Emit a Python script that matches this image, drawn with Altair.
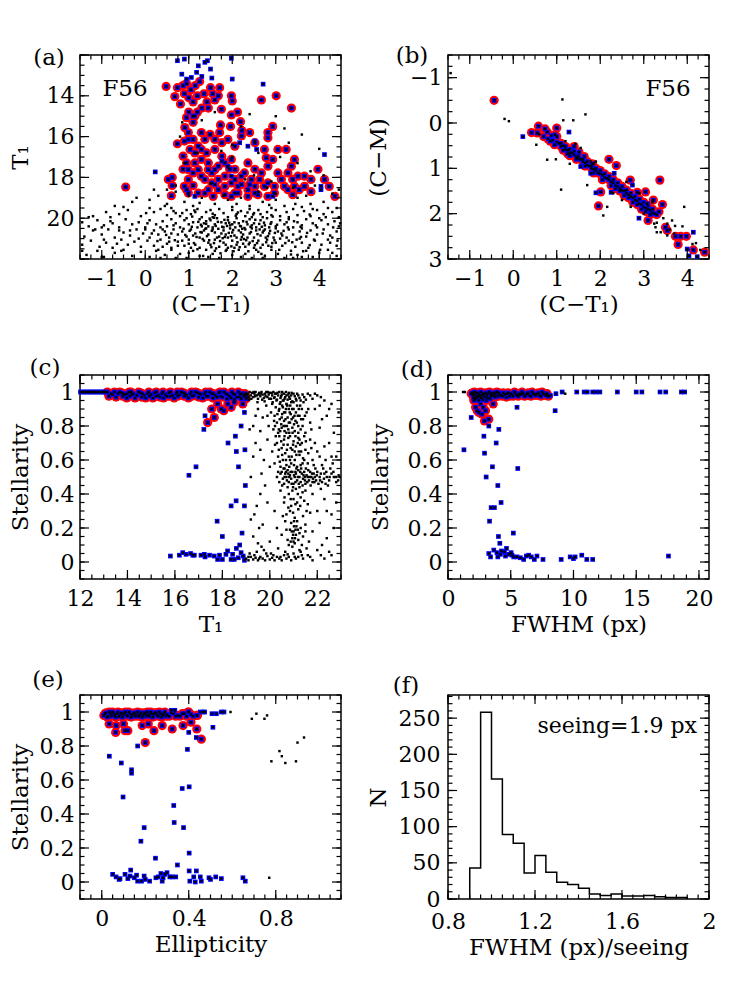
import altair as alt
import pandas as pd

FONT = "DejaVu Serif"
W, H = 261, 204

# ---------------- panel (a): T1 vs (C-T1) ----------------
A_RED = [(0.48,13.54),(0.68,14.04),(0.74,13.6),(0.81,14.4),(0.87,13.5),(0.9,13.9),(0.95,13.4),(1.0,14.1),(1.05,13.7),(1.1,14.3),(1.15,13.5),(1.2,14.0),(1.25,13.3),(1.3,14.6),(1.35,13.9),(1.42,14.3),(1.5,13.6),(1.45,14.6),(1.6,14.2),(1.55,13.9),(1.68,14.0),(1.71,13.6),(1.98,14.0),(2.0,14.25),(2.67,14.2),(3.01,14.0),(3.36,14.6),(1.75,14.66),(1.98,14.94),(2.12,14.8),(2.19,15.27),(1.73,15.43),(2.22,15.7),(1.96,15.5),(1.0,14.8),(1.1,15.0),(1.2,14.8),(0.95,15.07),(0.91,15.56),(0.99,15.8),(1.14,14.99),(1.1,15.3),(1.29,15.8),
 (0.74,16.35),(0.9,16.22),(1.37,16.14),(1.22,16.47),(1.03,16.63),(0.95,17.29),(0.87,17.6),(0.99,18.1),(1.1,18.4),(0.95,18.6),(1.22,18.77),(1.45,18.6),(1.6,18.35),(1.29,17.94),(1.53,17.78),(1.68,17.45),(1.76,16.96),(1.6,16.63),(1.49,15.89),(1.71,15.8),(1.9,16.14),(2.06,16.47),(1.98,17.12),(1.83,17.29),(2.06,17.6),(2.21,17.94),(1.98,18.27),(2.13,18.44),(1.83,18.44),(1.68,18.6),(2.06,18.77),(2.36,18.6),(2.52,18.44),(2.63,18.1),(2.82,18.27),(2.97,18.44),(3.13,18.1),(3.28,17.78),(3.36,17.45),(3.24,16.63),(3.05,16.63),(3.43,17.12),(3.51,17.94),(3.66,17.94),(3.81,18.1),(3.97,17.6),(4.12,18.1),(4.23,18.44),(4.36,18.93),(3.81,18.7),(3.66,18.44),(3.43,18.44),(3.39,18.85),(3.28,18.6),(2.82,18.93),(2.59,18.85),(2.36,18.93),(2.21,18.35),(2.44,18.1),(2.67,17.78),(2.82,17.45),(2.78,17.04),(2.93,17.12),(2.74,16.63),(2.52,16.3),(2.4,15.8),(2.21,15.97),(2.82,15.8),(2.82,16.06),(2.93,15.5),(2.36,17.29),(2.28,17.78),(2.52,17.6),(0.53,18.1),(0.62,18.0),(0.62,18.4),(0.6,18.9),(0.9,18.44),(0.99,18.77),(1.1,17.78),(1.14,17.29),(1.29,17.12),(1.45,17.29),(1.41,16.8),(1.29,16.63),(1.14,16.8),(1.37,18.1),(1.53,18.27),(1.68,18.1),(1.83,17.94),(1.94,17.6),(1.6,17.62),(1.45,17.62),(0.99,17.62),(1.22,17.62),(1.37,18.77),(1.56,18.93),(1.83,18.85),(1.98,18.93),(2.13,18.77),(0.87,16.96),(0.99,16.14),(1.1,16.14),(1.6,16.14),(1.76,16.3),(2.06,18.1),(2.4,18.35),(3.05,17.78),(3.2,18.44),(3.39,18.1),(3.54,18.6),(2.52,18.77),(2.74,18.44),(2.97,18.77),(-0.45,18.47)]
A_BLUE_ONLY = [(0.74,12.28),(0.9,12.2),(0.84,12.94),(0.95,13.18),(1.22,12.53),(1.18,12.85),(1.37,12.36),(1.43,12.28),(1.5,12.69),(1.53,13.13),(1.98,12.16),(2.0,13.18),(2.71,13.43),(0.23,17.73),(4.12,16.88),(2.52,16.22),(2.56,16.63),(2.36,16.47),(1.76,17.2),(1.9,17.45),(1.14,18.93),(2.93,18.93),(4.04,18.44),(4.04,18.6),(1.98,17.94),(2.17,16.3),(1.06,13.1),(1.3,13.05)]
A_BLACK = [(-0.7,19.4),(-0.3,19.2),(0.1,19.1),(0.3,18.9),(0.5,19.3),(0.7,18.7),(0.9,19.2),(1.3,19.0),(1.6,19.3),(1.9,19.1),(2.2,19.0),(2.4,19.4),(2.7,19.2),(3.0,19.1),(3.2,19.4),(3.5,19.0),(3.8,19.3),(4.1,19.2),(4.4,19.5),(1.1,19.4),(2.0,19.45),(2.9,19.5),(3.6,19.45),(0.6,19.5),
 (-1.2,19.9),(-0.9,19.7),(-0.6,19.8),(-0.4,19.6),(-0.1,19.9),(0.2,19.7),(0.35,19.55),(0.5,19.85),(0.65,19.65),(0.8,19.9),(0.95,19.6),(1.05,19.8),(1.2,19.55),(1.3,19.95),(1.4,19.7),(1.5,19.6),(1.6,19.85),(1.7,19.55),(1.8,19.75),(1.9,19.95),(2.0,19.6),(2.1,19.8),(2.2,19.65),(2.3,19.9),(2.4,19.55),(2.5,19.75),(2.6,19.6),(2.7,19.95),(2.8,19.7),(2.9,19.85),(3.0,19.6),(3.1,19.9),(3.25,19.7),(3.4,19.55),(3.5,19.85),(3.65,19.65),(3.8,19.9),(3.95,19.6),(4.1,19.8),(4.3,19.7),(4.45,19.95),(0.1,19.5),(1.55,19.95),(2.45,19.95),(3.3,19.95),(-0.8,19.95),(0.7,19.75),(1.15,19.7),(2.65,19.8),(3.85,19.55),
 (-1.45,20.2),(-1.3,20.4),(-1.1,20.1),(-0.95,20.35),(-0.8,20.15),(-0.6,20.45),(-0.45,20.05),(-0.3,20.3),(-0.15,20.2),(0.0,20.45),(0.1,20.1),(0.25,20.3),(0.4,20.15),(0.5,20.4),(0.6,20.05),(0.7,20.25),(0.8,20.45),(0.9,20.1),(1.0,20.3),(1.1,20.2),(1.2,20.45),(1.25,20.05),(1.35,20.25),(1.45,20.4),(1.5,20.1),(1.6,20.3),(1.65,20.0),(1.75,20.2),(1.8,20.45),(1.9,20.1),(1.95,20.35),(2.05,20.2),(2.1,20.0),(2.2,20.4),(2.25,20.15),(2.35,20.3),(2.4,20.05),(2.5,20.25),(2.55,20.45),(2.65,20.1),(2.75,20.35),(2.8,20.0),(2.9,20.2),(3.0,20.4),(3.1,20.1),(3.2,20.3),(3.3,20.05),(3.4,20.45),(3.5,20.2),(3.6,20.35),(3.7,20.05),(3.85,20.25),(3.95,20.45),(4.05,20.1),(4.2,20.3),(4.35,20.15),(4.45,20.4),(1.55,20.45),(2.0,20.3),(2.45,20.35),(1.3,20.4),(0.95,20.0),(2.85,20.45),(3.25,20.2),(1.85,20.25),(2.15,20.25),(0.35,20.45),(4.0,20.0),(-1.0,20.45),(1.4,20.15),
 (-1.4,20.9),(-1.2,20.6),(-1.0,20.8),(-0.85,20.55),(-0.7,20.95),(-0.5,20.7),(-0.35,20.85),(-0.2,20.55),(-0.05,20.75),(0.1,20.95),(0.2,20.6),(0.3,20.8),(0.45,20.65),(0.55,20.95),(0.65,20.55),(0.75,20.8),(0.85,20.65),(0.95,20.9),(1.05,20.55),(1.15,20.75),(1.25,20.95),(1.35,20.6),(1.45,20.8),(1.55,20.55),(1.6,20.7),(1.7,20.9),(1.8,20.6),(1.85,20.8),(1.95,20.5),(2.0,20.7),(2.1,20.95),(2.15,20.6),(2.25,20.8),(2.3,20.55),(2.4,20.75),(2.5,20.95),(2.55,20.6),(2.65,20.85),(2.75,20.55),(2.85,20.75),(2.95,20.95),(3.05,20.65),(3.15,20.85),(3.3,20.55),(3.4,20.8),(3.55,20.65),(3.7,20.9),(3.8,20.6),(3.95,20.8),(4.1,20.55),(4.25,20.85),(4.4,20.65),(1.4,20.5),(1.75,20.75),(2.05,20.85),(2.35,20.95),(1.1,20.85),(0.6,20.75),(2.7,20.7),(3.25,20.95),(-0.6,20.6),(1.9,20.95),(2.45,20.5),(3.6,20.5),(0.0,20.55),(1.3,20.7),(2.2,20.7),(1.65,20.95),(3.0,20.5),(4.3,20.95),
 (-1.45,21.3),(-1.25,21.1),(-1.05,21.4),(-0.9,21.2),(-0.75,21.45),(-0.55,21.05),(-0.4,21.3),(-0.25,21.15),(-0.1,21.4),(0.05,21.1),(0.2,21.35),(0.35,21.05),(0.5,21.25),(0.6,21.45),(0.75,21.15),(0.9,21.35),(1.0,21.05),(1.15,21.3),(1.25,21.45),(1.35,21.1),(1.5,21.3),(1.6,21.05),(1.7,21.4),(1.8,21.2),(1.9,21.45),(2.0,21.1),(2.1,21.3),(2.2,21.05),(2.3,21.4),(2.4,21.2),(2.5,21.45),(2.6,21.1),(2.7,21.3),(2.8,21.05),(2.9,21.4),(3.0,21.2),(3.15,21.35),(3.3,21.1),(3.45,21.4),(3.6,21.2),(3.75,21.45),(3.9,21.1),(4.05,21.3),(4.2,21.05),(4.4,21.35),(1.45,21.2),(1.85,21.3),(2.25,21.25),(0.85,21.1),(2.65,21.45),(3.55,21.0),(-0.65,21.25),(1.05,21.45),(2.05,21.45),(0.4,21.4),(3.1,21.0),
 (-1.35,21.8),(-1.1,21.6),(-0.95,21.9),(-0.7,21.7),(-0.5,21.55),(-0.3,21.85),(-0.1,21.65),(0.1,21.9),(0.25,21.6),(0.45,21.8),(0.6,21.55),(0.8,21.75),(0.95,21.95),(1.1,21.6),(1.25,21.85),(1.4,21.55),(1.55,21.75),(1.7,21.95),(1.85,21.6),(2.0,21.8),(2.15,21.55),(2.3,21.75),(2.45,21.95),(2.6,21.65),(2.75,21.85),(2.9,21.55),(3.05,21.75),(3.2,21.95),(3.35,21.6),(3.5,21.8),(3.7,21.6),(3.85,21.9),(4.0,21.7),(4.2,21.55),(4.4,21.85),(1.6,21.6),(2.2,21.9),(0.7,21.95),(-1.45,21.6),(2.55,21.55),(1.0,21.7),(3.4,21.95),
 (1.02,20.62),(1.22,20.18),(1.42,20.88),(1.62,20.38),(1.82,20.08),(2.02,20.58),(2.22,20.92),(2.42,20.42),(2.62,20.28),(2.82,20.88),(1.12,21.22),(1.32,21.02),(1.52,21.42),(1.72,21.12),(1.92,20.72),(2.12,21.18),(2.32,21.08),(2.52,21.32),(2.72,20.62),(2.92,21.22),(1.08,19.92),(1.28,20.32),(1.48,20.02),(1.68,20.52),(1.88,20.38),(2.08,19.88),(2.28,20.48),(2.48,19.82),(2.68,20.42),(2.88,20.28),(1.18,20.92),(1.38,20.52),(1.58,21.22),(1.78,20.98),(1.98,21.38),(2.18,20.38),(2.38,21.28),(2.58,20.78),(2.78,21.18),(2.98,20.72),(0.88,20.52),(0.68,21.08),(3.18,20.62),(3.38,21.18),(3.58,20.92),(0.48,20.82),(3.78,21.32),(0.28,21.12),(1.55,19.78),(2.35,19.72),
 (-1.3,19.95),(-1.15,20.55),(-0.95,21.05),(-0.75,20.25),(-0.55,21.6),(-0.35,20.6),(-0.15,21.0),(0.05,20.25),(0.15,20.75),(0.3,21.55),(0.4,20.55),(0.55,21.15),(0.65,20.35),(0.75,21.35),(0.85,19.75),(0.92,20.82),(1.0,21.25),(1.07,20.42),(1.13,19.62),(1.2,21.52),(1.27,20.68),(1.33,21.85),(1.4,20.28),(1.47,21.08),(1.53,20.62),(1.58,19.98),(1.63,21.48),(1.67,20.18),(1.73,21.72),(1.77,20.42),(1.83,20.92),(1.87,21.55),(1.93,20.22),(1.97,20.88),(2.03,21.62),(2.07,20.45),(2.13,19.72),(2.17,21.42),(2.23,20.52),(2.27,21.02),(2.33,20.18),(2.37,21.62),(2.43,20.68),(2.47,21.12),(2.53,20.08),(2.57,21.22),(2.63,20.55),(2.67,21.75),(2.73,20.22),(2.77,20.95),(2.83,21.35),(2.87,20.62),(2.93,19.92),(2.97,21.08),(3.03,20.32),(3.08,21.55),(3.13,20.75),(3.22,21.22),(3.28,20.45),(3.35,21.78),(3.42,20.15),(3.48,21.05),(3.57,20.42),(3.63,21.62),(3.72,20.72),(3.78,19.82),(3.88,21.05),(3.92,20.35),(4.02,21.55),(4.08,20.75),(4.15,19.95),(4.25,21.2),(4.32,20.45),(4.42,21.1),(4.48,20.25),(0.02,19.75),(-0.5,19.45),(0.45,19.4),(1.25,19.25),(2.1,19.3),(2.85,19.35),(3.45,19.3),(4.2,19.5),(-1.0,21.9),(0.35,21.95),(1.45,21.9),(2.7,21.95),(3.6,21.9),(4.3,21.7),
 (0.85,15.3),(1.3,15.2),(1.6,14.8),(2.4,14.9),(3.2,15.6),(3.6,15.9),(2.0,16.4),(1.2,16.8),(1.9,17.5),(2.6,16.8),(3.1,17.0),(3.5,17.3),(3.8,17.7),(4.1,17.9),(0.9,17.3),(0.7,18.4),(1.5,18.3),(2.3,18.1),(2.9,18.2),(3.4,18.5),(3.9,18.4),(4.3,18.8),(0.5,18.6),(1.8,18.9),(2.6,18.7),(3.0,18.8),(1.1,18.4),(2.0,17.0),(2.5,17.9),(3.3,16.3),(0.8,16.0),(1.5,15.9),(4.0,16.6),(3.7,18.9),(1.0,18.9),(0.2,18.6),(-0.2,19.0),(2.2,15.5),(3.0,15.0),(1.75,16.7),(2.8,18.5),(4.45,18.6)]

# ---------------- panel (b): (C-M) vs (C-T1) ----------------
B_RED = [(-0.44,-0.5),(0.42,0.21),(0.55,0.22),(0.58,0.07),(0.73,0.13),(1.0,0.11),(0.96,0.26),(1.4,0.52),(1.51,0.64),(1.63,0.74),(1.82,0.9),(2.2,0.8),(2.37,0.94),(2.01,1.52),(1.96,1.83),(2.69,1.26),(2.85,1.53),(3.04,1.52),(3.1,2.15),(3.37,1.26),(3.22,1.7),(3.43,1.8),(3.35,1.96),(3.5,2.3),(3.54,2.37),(3.73,2.5),(3.85,2.5),(3.98,2.5),(3.79,2.68),(4.14,2.8),(4.4,2.85),
 (1.05,0.45),(1.1,0.52),(1.15,0.5),(1.2,0.58),(1.25,0.6),(1.3,0.65),(1.35,0.66),(1.4,0.7),(1.45,0.75),(1.5,0.78),(1.55,0.8),(1.6,0.85),(1.65,0.88),(1.7,0.93),(1.75,0.95),(1.8,1.0),(1.85,1.02),(1.9,1.05),(1.95,1.1),(2.0,1.12),(2.05,1.15),(2.1,1.2),(2.15,1.22),(2.2,1.25),(2.25,1.3),(2.3,1.32),(2.35,1.38),(2.4,1.4),(2.45,1.45),(2.5,1.48),(2.55,1.5),(2.6,1.55),(2.65,1.58),(2.7,1.62),(2.75,1.65),(2.8,1.7),(2.85,1.72),(2.9,1.78),(2.95,1.8),(3.0,1.85),(3.05,1.88),(3.1,1.9),(3.15,1.93),(3.2,1.98),(3.25,2.0),(3.3,2.02),
 (0.7,0.3),(0.8,0.35),(0.85,0.4),(0.9,0.38),(0.95,0.48),(1.0,0.42),(1.1,0.45),(1.2,0.52),(1.3,0.58),(1.4,0.62),(1.5,0.72),(1.6,0.8),(1.7,0.85),(1.8,0.95),(1.9,1.0),(2.0,1.05),(2.1,1.12),(2.2,1.18),(2.3,1.25),(2.4,1.32),(2.5,1.4),(2.6,1.48),(2.7,1.55),(2.8,1.62),(2.9,1.68),(3.0,1.75),(3.1,1.82),(3.2,1.9),
 (1.15,0.6),(1.25,0.68),(1.45,0.8),(1.65,0.95),(1.85,1.1),(2.05,1.25),(2.25,1.38),(2.45,1.5),(2.65,1.65),(2.85,1.8),(3.05,1.95),(1.3,0.72),(2.35,1.45),(2.55,1.6),(2.75,1.75),(2.95,1.9),(3.15,2.02),(0.78,0.2),(0.88,0.28),(1.0,0.3)]
B_BLUE_ONLY = [(0.22,0.3),(1.28,0.2),(2.25,1.53),(1.9,1.54),(2.89,2.1),(4.0,2.78),(4.04,2.93),(4.23,2.95),(4.14,2.41),(1.55,0.96),(1.78,1.11),(2.32,1.11),(2.74,1.37),(3.08,1.78)]
B_BLACK = [(-0.2,-0.09),(-0.1,-0.04),(1.13,-0.52),(1.15,-0.06),(1.38,-0.06),(1.66,-0.19),(0.53,0.48),(0.78,0.81),(0.98,0.8),(1.1,1.47),(1.43,0.46),(1.78,0.85),(1.86,0.89),(1.7,1.37),(2.07,2.04),(2.16,1.85),(3.24,2.22),(3.27,2.3),(3.3,2.41),(3.39,2.41),(3.54,2.48),(3.72,2.27),(3.89,2.28),(3.93,1.85),(3.7,2.44),(4.12,2.67),(3.54,2.22),(-1.44,-1.1),(2.6,1.3),(2.9,1.55),(3.2,1.75),(1.9,0.85),(2.3,1.55),(3.45,2.1),(3.65,2.15),(2.5,1.7),(1.55,0.55),(1.2,0.4),(0.6,0.25),(3.0,2.0),(3.6,2.35),(4.2,2.65),(4.3,2.8),(1.3,0.9),(2.7,1.85),(3.3,2.2)]

# ---------------- panel (c): stellarity vs T1 ----------------
C_RED = [(13.15,1.0),(13.3,0.99),(13.45,1.0),(13.6,0.99),(13.75,0.995),(13.9,0.985),(14.0,0.99),(14.1,0.975),(14.25,0.99),(14.4,0.98),(14.55,0.995),(14.7,0.98),(14.85,0.99),(15.0,0.985),(15.15,0.995),(15.3,0.98),(15.45,0.99),(15.6,0.985),(15.75,0.995),(15.9,0.98),(16.05,0.99),(16.2,0.985),(16.35,0.995),(16.5,0.98),(16.65,0.99),(16.8,0.98),(16.95,0.995),(17.1,0.985),(17.25,0.99),(17.4,0.975),(17.55,0.99),(17.7,0.98),(17.85,0.995),(18.0,0.97),(18.15,0.99),(18.3,0.975),(18.45,0.99),(18.6,0.97),(18.75,0.985),(18.9,0.975),(19.0,0.96),(13.8,0.975),(14.15,1.0),(14.6,0.97),(15.2,0.975),(15.8,0.975),(16.4,0.975),(17.0,0.97),(17.6,0.965),(18.2,0.96),(18.5,0.955),(18.8,0.96),(16.1,1.0),(16.7,1.0),(17.3,1.0),(17.9,1.0),(18.4,1.0),(18.95,0.99),(15.5,1.0),(14.9,1.0),
 (13.22,0.975),(13.37,0.985),(13.52,0.97),(13.67,1.0),(13.82,0.99),(13.97,0.965),(14.07,1.0),(14.18,0.985),(14.32,0.965),(14.47,1.0),(14.62,0.99),(14.77,0.965),(14.92,0.975),(15.07,0.965),(15.22,1.0),(15.37,0.97),(15.52,0.965),(15.67,0.975),(15.82,1.0),(15.97,0.965),(16.12,0.975),(16.27,1.0),(16.42,0.99),(16.57,0.965),(16.72,0.975),(16.87,1.0),(17.02,0.99),(17.17,0.965),(17.32,0.975),(17.47,1.0),(17.62,0.99),(17.77,0.97),(17.92,0.975),(18.07,1.0),(18.22,0.985),(18.37,0.965),(18.52,0.985),(18.67,1.0),(18.82,0.99),(18.97,0.975),
 (17.38,0.82),(17.66,0.85),(17.55,0.9),(17.8,0.93),(17.95,0.9),(18.06,0.89),(18.23,0.93),(18.37,0.91),(18.5,0.94),(18.86,0.93),(18.72,0.97)]
C_BLUE_ONLY = [(12.02,1.0),(12.1,1.0),(12.18,1.0),(12.26,1.0),(12.34,1.0),(12.42,1.0),(12.5,1.0),(12.58,1.0),(12.66,1.0),(12.74,1.0),(12.82,1.0),(12.9,1.0),(12.98,1.0),(13.06,1.0),
 (17.27,0.86),(17.22,0.78),(16.89,0.56),(16.59,0.51),(17.78,0.24),(18.0,0.15),(18.24,0.7),(18.55,0.74),(18.37,0.33),(18.58,0.36),(18.59,0.65),(18.68,0.56),(18.97,0.45),(18.93,0.88),(18.79,0.8),(18.95,0.66),(18.93,0.33),(18.83,0.17),(18.73,0.1),(18.59,0.08),
 (15.81,0.035),(16.19,0.04),(16.33,0.055),(16.66,0.05),(16.82,0.04),(17.1,0.04),(17.24,0.045),(17.46,0.04),(17.66,0.035),(17.88,0.04),(18.0,0.015),(18.15,0.045),(18.22,0.065),(18.43,0.045),(18.5,0.015),(18.67,0.025),(18.79,0.055),(18.88,0.035),(18.93,0.01),(18.37,0.015),(17.8,0.015),(17.27,0.03),(16.47,0.045),(16.75,0.04)]
C_BLACK = [(19.05,0.99),(19.1,0.97),(19.15,1.0),(19.2,0.98),(19.25,0.995),(19.3,0.97),(19.35,0.99),(19.4,1.0),(19.45,0.98),(19.5,0.96),(19.55,0.995),(19.6,0.975),(19.65,1.0),(19.7,0.985),(19.75,0.965),(19.8,0.99),(19.85,1.0),(19.9,0.97),(19.95,0.985),(20.0,0.995),(20.05,0.96),(20.1,0.98),(20.15,1.0),(20.2,0.97),(20.25,0.99),(20.3,0.955),(20.35,0.98),(20.4,1.0),(20.45,0.965),(20.5,0.985),(20.55,0.95),(20.6,0.99),(20.65,0.97),(20.7,0.98),(20.75,0.955),(20.8,0.995),(20.85,0.96),(20.9,0.98),(20.95,0.945),(21.0,0.99),(21.1,0.96),(21.2,0.98),(21.3,0.95),(21.45,0.97),(21.6,0.99),(21.8,0.96),(22.0,0.98),(22.3,0.95),(19.12,0.955),(19.48,0.94),(19.78,0.945),(20.12,0.94),(20.42,0.93),(20.72,0.925),(19.32,1.0),(19.62,0.99),(19.92,1.0),(20.22,0.99),(20.52,1.0),(20.82,0.97),
 (19.08,0.985),(19.22,0.96),(19.38,0.975),(19.52,0.985),(19.68,0.955),(19.82,0.975),(19.98,0.96),(20.08,0.995),(20.18,0.965),(20.32,0.995),(20.48,0.975),(20.62,0.96),(20.68,1.0),(20.78,0.985),(20.92,0.995),(21.05,0.975),(21.15,0.99),(21.25,0.965),(21.38,0.985),(21.52,0.955),(21.7,0.98),(21.9,0.99),(22.15,0.97),
 (19.5,0.9),(19.7,0.85),(19.85,0.92),(19.95,0.8),(20.05,0.88),(20.1,0.93),(20.15,0.78),(20.2,0.86),(20.25,0.91),(20.3,0.82),(20.35,0.76),(20.38,0.89),(20.42,0.84),(20.45,0.94),(20.5,0.79),(20.52,0.87),(20.55,0.91),(20.6,0.83),(20.62,0.77),(20.65,0.88),(20.7,0.93),(20.72,0.8),(20.75,0.85),(20.8,0.9),(20.82,0.76),(20.85,0.82),(20.88,0.87),(20.9,0.94),(20.95,0.79),(20.98,0.85),(21.0,0.9),(21.05,0.77),(21.08,0.83),(21.1,0.88),(21.15,0.92),(21.2,0.8),(21.25,0.86),(21.3,0.78),(21.35,0.9),(21.4,0.84),(21.5,0.76),(21.55,0.88),(21.7,0.82),(21.9,0.9),(22.1,0.79),(22.4,0.86),(22.6,0.93),(19.3,0.8),(19.6,0.77),(19.9,0.86),(20.28,0.95),(20.48,0.81),(20.68,0.9),(20.92,0.84),(21.12,0.95),(21.28,0.92),(20.32,0.87),(20.58,0.95),(20.78,0.78),(21.02,0.81),(20.18,0.83),(20.44,0.77),(20.64,0.8),(20.86,0.92),(21.18,0.86),(21.42,0.94),(22.2,0.84),
 (20.22,0.8),(20.38,0.78),(20.52,0.92),(20.58,0.8),(20.66,0.84),(20.74,0.92),(20.84,0.88),(20.94,0.9),(21.04,0.86),(21.14,0.82),(21.22,0.9),(21.32,0.84),(21.38,0.8),(21.48,0.86),(21.62,0.9),(21.75,0.78),(20.4,0.9),(20.6,0.88),(20.8,0.82),(21.0,0.94),(20.96,0.76),(20.7,0.76),(20.5,0.85),(21.2,0.76),
 (19.4,0.7),(19.75,0.6),(19.9,0.72),(20.1,0.65),(20.2,0.58),(20.3,0.7),(20.35,0.62),(20.4,0.74),(20.45,0.56),(20.5,0.67),(20.55,0.6),(20.6,0.72),(20.65,0.64),(20.7,0.57),(20.75,0.69),(20.8,0.62),(20.85,0.74),(20.9,0.58),(20.95,0.66),(21.0,0.71),(21.05,0.6),(21.1,0.68),(21.15,0.56),(21.2,0.73),(21.25,0.63),(21.3,0.57),(21.35,0.7),(21.4,0.61),(21.5,0.66),(21.6,0.58),(21.7,0.72),(21.8,0.6),(22.0,0.65),(22.2,0.57),(22.5,0.7),(22.8,0.62),(20.25,0.74),(20.48,0.71),(20.68,0.6),(20.88,0.67),(21.08,0.74),(21.28,0.69),(20.42,0.59),(20.62,0.55),(20.82,0.56),(21.02,0.57),(21.22,0.65),(21.45,0.74),(19.6,0.66),(20.0,0.56),(21.9,0.7),
 (20.38,0.66),(20.52,0.63),(20.58,0.69),(20.72,0.66),(20.78,0.73),(20.92,0.62),(20.98,0.69),(21.12,0.63),(21.18,0.7),(21.32,0.65),(21.38,0.58),(21.52,0.71),(21.62,0.64),(21.75,0.67),(21.85,0.57),(22.1,0.62),(22.35,0.6),(22.65,0.58),(20.22,0.69),(20.62,0.74),(20.85,0.6),(21.05,0.65),(21.25,0.72),(21.45,0.6),
 (20.3,0.5),(20.4,0.47),(20.5,0.53),(20.55,0.49),(20.6,0.46),(20.65,0.52),(20.7,0.5),(20.75,0.54),(20.8,0.47),(20.85,0.51),(20.9,0.49),(20.95,0.53),(21.0,0.46),(21.05,0.5),(21.1,0.52),(21.15,0.48),(21.2,0.54),(21.25,0.5),(21.3,0.47),(21.35,0.52),(21.4,0.49),(21.45,0.53),(21.5,0.46),(21.55,0.51),(21.6,0.5),(21.65,0.48),(21.7,0.53),(21.75,0.5),(21.8,0.47),(21.85,0.52),(21.9,0.5),(21.95,0.48),(22.0,0.53),(22.1,0.5),(22.2,0.47),(22.3,0.52),(22.4,0.5),(22.5,0.48),(22.6,0.52),(22.7,0.5),(22.8,0.47),(22.9,0.51),(20.72,0.48),(20.88,0.53),(21.02,0.51),(21.18,0.5),(21.32,0.55),(21.48,0.5),(21.62,0.54),(21.78,0.52),(21.92,0.55),(22.05,0.46),(22.25,0.55),(22.45,0.45),(20.58,0.55),(20.98,0.44),(21.38,0.45),(21.72,0.45),(20.82,0.5),(21.22,0.46),(21.58,0.47),(22.15,0.52),(22.55,0.55),(22.95,0.5),(20.45,0.52),(21.12,0.55),
 (20.35,0.53),(20.52,0.45),(20.62,0.5),(20.78,0.52),(20.92,0.46),(21.08,0.47),(21.28,0.53),(21.42,0.51),(21.52,0.55),(21.68,0.5),(21.82,0.49),(21.98,0.51),(22.12,0.48),(22.28,0.49),(22.38,0.53),(22.52,0.5),(22.68,0.53),(22.78,0.5),(22.88,0.48),(20.68,0.53),(21.08,0.53),(21.48,0.48),(21.88,0.47),(22.35,0.46),
 (19.6,0.4),(20.2,0.3),(20.45,0.42),(20.6,0.35),(20.7,0.28),(20.8,0.4),(20.9,0.33),(21.0,0.37),(21.05,0.26),(21.1,0.43),(21.2,0.31),(21.3,0.38),(21.4,0.27),(21.5,0.42),(21.6,0.34),(21.8,0.4),(22.0,0.3),(22.3,0.37),(22.6,0.28),(20.95,0.42),(20.75,0.44),(21.15,0.35),(20.55,0.27),(21.25,0.44),(20.85,0.3),(21.45,0.36),(19.9,0.35),(22.15,0.43),(19.35,0.28),(21.7,0.29),
 (20.62,0.38),(20.78,0.32),(20.88,0.37),(20.98,0.29),(21.08,0.34),(21.18,0.4),(21.28,0.33),(21.38,0.41),(21.55,0.3),(21.02,0.24),(20.92,0.18),(21.12,0.21),(21.06,0.14),(20.88,0.12),(21.18,0.19),(21.35,0.1),(20.7,0.19),(21.5,0.18),
 (19.3,0.15),(19.7,0.22),(20.0,0.12),(20.3,0.2),(20.5,0.16),(20.65,0.24),(20.75,0.13),(20.85,0.19),(20.9,0.23),(20.95,0.14),(21.0,0.18),(21.02,0.21),(21.05,0.11),(21.1,0.16),(21.15,0.24),(21.2,0.13),(21.3,0.2),(21.4,0.15),(21.5,0.22),(21.65,0.12),(21.8,0.18),(22.1,0.23),(22.4,0.14),(21.0,0.12),(20.98,0.16),(21.08,0.19),(20.8,0.1),(21.25,0.17),(19.5,0.11),(22.7,0.2),
 (19.0,0.02),(19.1,0.01),(19.2,0.03),(19.3,0.015),(19.4,0.025),(19.5,0.01),(19.6,0.03),(19.7,0.02),(19.8,0.01),(19.9,0.035),(20.0,0.015),(20.1,0.025),(20.2,0.01),(20.3,0.03),(20.4,0.02),(20.5,0.01),(20.6,0.04),(20.7,0.02),(20.8,0.03),(20.9,0.01),(21.0,0.05),(21.1,0.02),(21.2,0.03),(21.3,0.06),(21.4,0.02),(21.6,0.04),(21.8,0.01),(22.0,0.07),(22.3,0.02),(22.6,0.04),(19.15,0.05),(19.45,0.06),(19.75,0.07),(20.05,0.05),(20.35,0.08),(20.65,0.06),(20.95,0.09),(21.25,0.07),(21.55,0.08),(19.65,0.09),
 (19.1,0.03),(19.35,0.04),(19.55,0.02),(19.85,0.05),(20.15,0.04),(20.45,0.03),(20.75,0.045),(21.05,0.03),(21.35,0.04),(21.7,0.03),(22.15,0.04),(22.5,0.06),
 (19.2,0.5),(19.3,0.62),(19.45,0.33),(19.55,0.2),(19.8,0.45),(19.15,0.78),(19.4,0.86),(22.3,0.68),(22.5,0.9),(22.7,0.76),(22.1,0.92),(22.9,0.88),(22.4,0.3),(22.8,0.35),(22.2,0.1),(19.2,0.25),(19.65,0.52),(22.6,0.62)]

# ---------------- panel (d): stellarity vs FWHM ----------------
D_RED = [(1.85,0.99),(2.0,0.98),(2.1,1.0),(2.2,0.985),(2.3,0.995),(2.4,0.975),(2.5,0.99),(2.6,1.0),(2.7,0.98),(2.8,0.99),(2.9,0.97),(3.0,0.995),(3.1,0.98),(3.2,0.99),(3.3,1.0),(3.4,0.975),(3.5,0.99),(3.6,0.98),(3.7,0.995),(3.8,0.985),(3.9,1.0),(4.0,0.975),(4.1,0.99),(4.25,0.98),(4.4,0.995),(4.55,0.985),(4.7,0.99),(4.9,0.975),(5.1,0.985),(5.3,1.0),(5.5,0.98),(5.7,0.99),(5.9,1.0),(6.1,0.975),(6.3,0.99),(6.5,0.98),(6.7,1.0),(6.9,0.985),(7.1,0.99),(7.3,0.98),(7.5,1.0),(7.7,0.985),(7.9,0.99),(8.0,0.975),(2.15,0.955),(2.45,0.95),(2.75,0.955),(3.05,0.95),(3.35,0.96),(2.35,0.965),(2.65,0.965),
 (1.95,0.995),(2.05,0.965),(2.25,0.97),(2.55,0.975),(2.85,0.985),(3.15,0.965),(3.45,0.99),(3.75,0.97),(4.05,0.995),(4.35,0.975),(4.65,0.97),(4.8,0.995),(5.0,0.99),(5.2,0.975),(5.4,0.99),(5.6,0.975),(5.8,0.985),(6.0,0.99),(6.2,0.98),(6.4,0.995),(6.6,0.975),(6.8,0.99),(7.0,0.98),(7.2,0.995),(7.4,0.975),(7.6,0.99),(7.8,0.98),
 (2.06,0.95),(2.6,0.93),(2.99,0.89),(2.33,0.89),(2.8,0.91),(3.6,0.93),(2.91,0.83),(3.25,0.84),(2.46,0.88),(2.2,0.91),(2.7,0.87)]
D_BLUE_ONLY = [(1.85,0.85),(1.27,0.66),(2.86,0.74),(2.91,0.64),(3.04,0.5),(3.25,0.8),(3.84,0.7),(4.05,0.78),(3.54,0.56),(3.97,0.45),(3.44,0.32),(3.7,0.32),(4.23,0.35),(3.31,0.24),(4.02,0.15),(5.21,0.17),(4.13,0.11),(5.56,0.55),(5.5,0.91),(8.54,0.89),(8.15,0.98),(8.6,0.99),(9.1,1.0),(10.26,1.0),(10.85,1.0),(11.1,1.0),(11.53,1.0),(11.8,1.0),(12.1,1.0),(13.5,1.0),(15.0,1.0),(15.45,1.0),(16.9,1.0),(17.35,1.0),(18.6,1.0),(18.86,1.0),(17.57,0.035),
 (3.25,0.05),(3.65,0.07),(3.9,0.055),(4.18,0.045),(4.5,0.06),(4.66,0.08),(4.84,0.045),(5.1,0.04),(5.5,0.03),(5.77,0.025),(6.03,0.015),(6.24,0.035),(6.43,0.04),(6.64,0.03),(6.88,0.015),(7.09,0.035),(7.57,0.015),(9.02,0.015),(9.74,0.03),(10.0,0.02),(10.13,0.03),(11.06,0.015),(11.53,0.015),(10.66,0.04),(3.39,0.03),(4.26,0.065),(4.58,0.035),(3.97,0.03),(5.24,0.03),(5.03,0.055)]
D_BLACK = [(1.2,1.0),(1.35,1.0),(1.9,0.99),(1.95,0.985),(2.0,0.995),(9.34,0.99)]

# ---------------- panel (e): stellarity vs ellipticity ----------------
E_RED = [(0.01,0.98),(0.02,0.995),(0.03,0.975),(0.04,0.99),(0.05,1.0),(0.06,0.98),(0.07,0.99),(0.08,0.975),(0.09,0.995),(0.1,0.985),(0.11,1.0),(0.12,0.975),(0.13,0.99),(0.14,0.98),(0.15,0.995),(0.16,0.985),(0.17,0.975),(0.18,0.995),(0.19,0.98),(0.2,0.99),(0.21,1.0),(0.22,0.975),(0.23,0.99),(0.24,0.985),(0.25,0.995),(0.26,0.975),(0.27,0.99),(0.28,0.98),(0.29,1.0),(0.3,0.985),(0.31,0.975),(0.33,0.99),(0.35,0.98),(0.36,0.975),(0.38,0.99),(0.4,1.0),(0.41,0.985),(0.42,0.975),(0.44,0.98),
 (0.015,0.99),(0.025,0.97),(0.035,1.0),(0.045,0.975),(0.055,0.99),(0.065,0.97),(0.075,1.0),(0.085,0.985),(0.095,0.97),(0.105,0.995),(0.115,0.98),(0.125,1.0),(0.135,0.97),(0.145,0.99),(0.155,0.975),(0.165,1.0),(0.175,0.985),(0.185,0.97),(0.195,0.995),(0.205,0.975),(0.215,0.985),(0.225,1.0),(0.235,0.97),(0.245,0.995),(0.255,0.98),(0.265,1.0),(0.275,0.97),(0.285,0.99),(0.295,0.975),(0.32,0.995),(0.34,0.975),(0.37,0.99),(0.39,0.975),
 (0.034,0.93),(0.066,0.92),(0.064,0.88),(0.1,0.93),(0.107,0.89),(0.12,0.89),(0.186,0.92),(0.214,0.93),(0.24,0.89),(0.278,0.92),(0.324,0.9),(0.374,0.92),(0.41,0.94),(0.437,0.9),(0.458,0.84),(0.2,0.82),(0.437,0.98),(0.397,1.0)]
E_BLUE_ONLY = [(0.01,0.98),(0.035,0.74),(0.09,0.7),(0.098,0.5),(0.137,0.66),(0.137,0.64),(0.165,0.8),(0.18,0.24),(0.195,0.32),(0.247,0.14),(0.331,0.45),(0.333,0.35),(0.37,0.55),(0.376,0.32),(0.394,0.78),(0.4,0.88),(0.402,0.56),(0.402,0.17),(0.348,0.1),(0.435,0.85),(0.453,1.0),(0.467,1.0),(0.473,1.0),(0.507,0.99),(0.527,0.99),(0.511,0.91),(0.55,1.0),(0.562,1.0),(0.32,1.01),(0.336,1.01),
 (0.05,0.045),(0.066,0.03),(0.08,0.015),(0.107,0.045),(0.12,0.02),(0.133,0.07),(0.13,0.035),(0.16,0.04),(0.165,0.005),(0.183,0.005),(0.195,0.035),(0.2,0.015),(0.22,0.005),(0.249,0.025),(0.26,0.03),(0.272,0.05),(0.278,0.005),(0.29,0.045),(0.3,0.055),(0.313,0.03),(0.324,0.03),(0.34,0.03),(0.402,0.065),(0.405,0.005),(0.423,0.03),(0.435,0.065),(0.43,0.0),(0.453,0.03),(0.458,0.005),(0.493,0.025),(0.5,0.015),(0.524,0.03),(0.55,0.02),(0.649,0.025),(0.66,0.005),(0.15,0.025),(0.084,0.02),(0.282,0.025)]
E_BLACK = [(0.592,1.0),(0.69,0.96),(0.711,0.99),(0.748,0.96),(0.76,0.98),(0.78,0.71),(0.817,0.77),(0.828,0.74),(0.844,0.7),(0.893,0.71),(0.9,0.82),(0.93,0.85),(0.77,0.025)]

# ---------------- panel (f): histogram of FWHM/seeing ----------------
F_BIN_LEFT = [0.90,0.95,1.00,1.05,1.10,1.15,1.20,1.25,1.30,1.35,1.40,1.45,1.50,1.55,1.60,1.65,1.70,1.75,1.80,1.85]
F_BIN_END = 1.90
F_COUNTS = [43,258,166,89,77,36,60,37,23,20,15,7,5,7,4,4,5,3,2,2]

# ---------------- tick / label lists ----------------
TICKS = {
    "a": dict(xmaj=[-1,0,1,2,3,4], xstep=0.25, ymaj=[12,14,16,18,20,22], ystep=0.5, xlab=[-1,0,1,2,3,4], ylab=[14,16,18,20]),
    "b": dict(xmaj=[-1,0,1,2,3,4], xstep=0.25, ymaj=[-1,0,1,2,3], ystep=0.25, xlab=[-1,0,1,2,3,4], ylab=[-1,0,1,2,3]),
    "c": dict(xmaj=[12,14,16,18,20,22], xstep=0.5, ymaj=[0,0.2,0.4,0.6,0.8,1.0], ystep=0.05, xlab=[12,14,16,18,20,22], ylab=[0,0.2,0.4,0.6,0.8,1]),
    "d": dict(xmaj=[0,5,10,15,20], xstep=1, ymaj=[0,0.2,0.4,0.6,0.8,1.0], ystep=0.05, xlab=[0,5,10,15,20], ylab=[0,0.2,0.4,0.6,0.8,1]),
    "e": dict(xmaj=[0,0.4,0.8], xstep=0.05, ymaj=[0,0.2,0.4,0.6,0.8,1.0], ystep=0.05, xlab=[0,0.4,0.8], ylab=[0,0.2,0.4,0.6,0.8,1]),
    "f": dict(xmaj=[0.8,1.2,1.6,2.0], xstep=0.05, ymaj=[0,50,100,150,200,250], ystep=10, xlab=[0.8,1.2,1.6,2], ylab=[0,50,100,150,200,250]),
}


def steps(lo, hi, step):
    n = int((hi - lo) / step + 1e-6)
    return [round(lo + i * step, 6) for i in range(n + 1)]


def df(lst):
    return pd.DataFrame(lst, columns=["x", "y"])


def panel(key, xdom, ydom, yrev, xtitle, ytitle, ytx, texts, red=None, blue_only=None, black_only=None,
          hist=None, xlabpad=9, ylabpad=6):
    t = TICKS[key]
    xs = alt.Scale(domain=xdom, nice=False, zero=False)
    ys = alt.Scale(domain=ydom, nice=False, zero=False, reverse=yrev)
    xaxis = alt.Axis(values=t["xlab"], title=xtitle, format="~f", labelPadding=xlabpad)
    yaxis = alt.Axis(values=t["ylab"], title=ytitle, format="~f", titleX=ytx, labelPadding=ylabpad)
    X = lambda f: alt.X(f, scale=xs, axis=xaxis)
    Y = lambda f: alt.Y(f, scale=ys, axis=yaxis)
    layers = []
    if hist is not None:
        layers.append(alt.Chart(hist).mark_line(interpolate="step-after", color="black", strokeWidth=1.5).encode(
            x=X("x:Q"), y=Y("y:Q")))
    else:
        blue = red + blue_only
        black = blue + black_only
        layers.append(alt.Chart(df(red)).mark_circle(size=85, color="#ff0000", opacity=1).encode(x=X("x:Q"), y=Y("y:Q")))
        layers.append(alt.Chart(df(blue)).mark_square(size=22, color="#0000ff", opacity=1).encode(x=X("x:Q"), y=Y("y:Q")))
        layers.append(alt.Chart(df(black)).mark_square(size=6, color="black", opacity=1).encode(x=X("x:Q"), y=Y("y:Q")))
    xmin = steps(xdom[0], xdom[1], t["xstep"])
    ymin = steps(min(ydom), max(ydom), t["ystep"])
    for vals, ln in ((xmin, 4.5), (t["xmaj"], 9)):
        base = alt.Chart(pd.DataFrame({"x": vals})).mark_rule(color="black", strokeWidth=1.2)
        layers.append(base.encode(x=X("x:Q"), y=alt.value(0), y2=alt.value(ln)))
        layers.append(base.encode(x=X("x:Q"), y=alt.value(H), y2=alt.value(H - ln)))
    for vals, ln in ((ymin, 4.5), (t["ymaj"], 9)):
        base = alt.Chart(pd.DataFrame({"y": vals})).mark_rule(color="black", strokeWidth=1.2)
        layers.append(base.encode(y=Y("y:Q"), x=alt.value(0), x2=alt.value(ln)))
        layers.append(base.encode(y=Y("y:Q"), x=alt.value(W), x2=alt.value(W - ln)))
    for tx in texts:
        s, px, py = tx[0], tx[1], tx[2]
        align = tx[3] if len(tx) > 3 else "center"
        size = tx[4] if len(tx) > 4 else 23
        layers.append(alt.Chart(pd.DataFrame({"t": [s]})).mark_text(
            font=FONT, fontSize=size, align=align, baseline="middle", color="black"
        ).encode(x=alt.value(px), y=alt.value(py), text="t:N"))
    return alt.layer(*layers).properties(width=W, height=H)


hist_pts = [(F_BIN_LEFT[0], 0)] + list(zip(F_BIN_LEFT, F_COUNTS)) + [(F_BIN_END, 0)]
hist_df = df(hist_pts)

pa = panel("a", [-1.5, 4.5], [12, 22], True, "(C\u2212T\u2081)", "T\u2081", -48,
           [("(a)", -31, 3), ("F56", 45, 34)], A_RED, A_BLUE_ONLY, A_BLACK)
pb = panel("b", [-1.5, 4.5], [-1.5, 3], True, "(C\u2212T\u2081)", "(C\u2212M)", -58,
           [("(b)", -36, 1), ("F56", 220, 34)], B_RED, B_BLUE_ONLY, B_BLACK)
pc = panel("c", [12, 23], [-0.1, 1.1], False, "T\u2081", "Stellarity", -48,
           [("(c)", -35, -7)], C_RED, C_BLUE_ONLY, C_BLACK)
pd_ = panel("d", [0, 20.8], [-0.1, 1.1], False, "FWHM (px)", "Stellarity", -56,
            [("(d)", -31, -5)], D_RED, D_BLUE_ONLY, D_BLACK)
pe = panel("e", [-0.1, 1.1], [-0.1, 1.1], False, "Ellipticity", "Stellarity", -48,
           [("(e)", -32, -15)], E_RED, E_BLUE_ONLY, E_BLACK)
pf = panel("f", [0.8, 2.0], [0, 282], False, "FWHM (px)/seeing", "N", -58,
           [("(f)", -42, -9), ("seeing=1.9 px", 249, 31, "right", 22)], hist=hist_df,
           xlabpad=12, ylabpad=8)

chart = alt.concat(pa, pb, pc, pd_, pe, pf, columns=2, spacing={"row": 116, "column": 107}, bounds="flush").properties(
    padding={"left": 0, "top": 36, "right": 8, "bottom": 8}
).configure_view(stroke="black", strokeWidth=1.5).configure_axis(
    labelFont=FONT, labelFontSize=22, labelColor="black",
    titleFont=FONT, titleFontSize=23, titleFontWeight="normal", titleColor="black",
    ticks=False, tickSize=0, domain=False, grid=False, labelOverlap=False, labelFlush=False
).configure_axisX(titlePadding=4)

chart.save("out.html", embed_options={"renderer": "svg", "actions": False})
